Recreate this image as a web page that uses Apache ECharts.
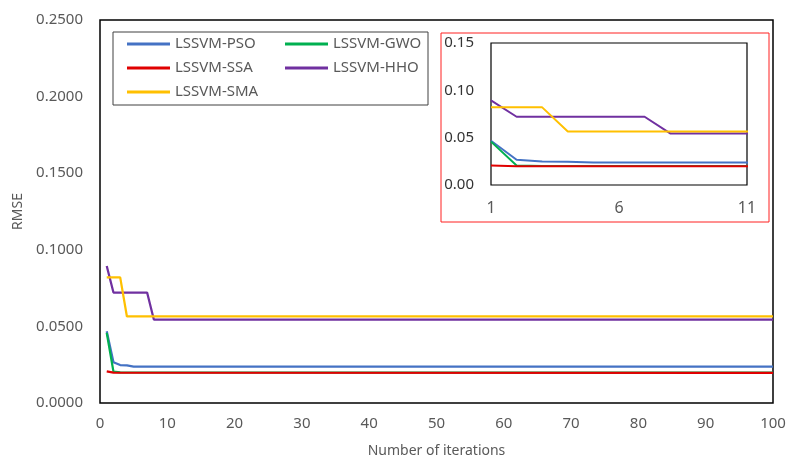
<!DOCTYPE html>
<html>
<head>
<meta charset="utf-8">
<script src="https://cdn.jsdelivr.net/npm/echarts@6/dist/echarts.min.js"></script>
<style>html,body{margin:0;padding:0;background:#fff;}#c{width:787px;height:461px;}</style>
</head>
<body>
<div id="c"></div>
<script>
// Data: [iteration, RMSE] change points
const seriesNames = ['LSSVM-PSO', 'LSSVM-GWO', 'LSSVM-SSA', 'LSSVM-HHO', 'LSSVM-SMA'];
const psoData = [[1, 0.0468], [2, 0.0266], [3, 0.0248], [4, 0.0245], [5, 0.0237], [100, 0.0237]];
const gwoData = [[1, 0.0458], [2, 0.0205], [3, 0.0200], [100, 0.0198]];
const ssaData = [[1, 0.0207], [2, 0.0198], [100, 0.0196]];
const hhoData = [[1, 0.0894], [2, 0.0721], [7, 0.0721], [8, 0.0545], [100, 0.0545]];
const smaData = [[1, 0.0820], [3, 0.0820], [4, 0.0565], [100, 0.0565]];
const insetXLabels = [1, 6, 11];
const colors = ['#4472C4', '#00B050', '#E00000', '#7030A0', '#FFC000'];
const allData = [psoData, gwoData, ssaData, hhoData, smaData];

const FONT = 'Noto Sans';
const chart = echarts.init(document.getElementById('c'), null, {renderer: 'canvas'});

const series = [];
allData.forEach((d, i) => {
  series.push({
    name: seriesNames[i], type: 'line', data: d, xAxisIndex: 0, yAxisIndex: 0,
    showSymbol: false, symbol: 'none', lineStyle: {color: colors[i], width: 2.25},
    itemStyle: {color: colors[i]}, z: 3, animation: false
  });
});
allData.forEach((d, i) => {
  series.push({
    name: seriesNames[i], type: 'line', data: d, xAxisIndex: 1, yAxisIndex: 1,
    showSymbol: false, symbol: 'none', clip: true, lineStyle: {color: colors[i], width: 2},
    itemStyle: {color: colors[i]}, z: 12, animation: false
  });
});

const legendCommon = {
  orient: 'vertical', icon: 'rect', itemWidth: 43, itemHeight: 3, itemGap: 4, padding: 0,
  textStyle: {fontFamily: FONT, fontSize: 15, color: '#595959', lineHeight: 20},
  selectedMode: false
};

chart.setOption({
  animation: false,
  textStyle: {fontFamily: FONT},
  color: colors,
  graphic: [
    {type: 'rect', shape: {x: 113, y: 32, width: 315, height: 73}, style: {fill: '#fff', stroke: '#404040', lineWidth: 1}, z: 5},
    {type: 'rect', shape: {x: 441, y: 33, width: 328, height: 189}, style: {fill: '#fff', stroke: '#FF2020', lineWidth: 1}, z: 5}
  ],
  legend: [
    Object.assign({left: 127, top: 34, data: [seriesNames[0], seriesNames[2], seriesNames[4]]}, legendCommon, {z: 8}),
    Object.assign({left: 285, top: 34, data: [seriesNames[1], seriesNames[3]]}, legendCommon, {z: 8})
  ],
  grid: [
    {left: 100, top: 20, width: 673, height: 383, outerBoundsMode: 'none', containLabel: false, show: true, borderColor: '#000', borderWidth: 1.5, backgroundColor: 'transparent', z: 1},
    {left: 491, top: 43, width: 256, height: 142, outerBoundsMode: 'none', containLabel: false, show: true, borderColor: '#000', borderWidth: 1.2, backgroundColor: 'transparent', z: 10}
  ],
  xAxis: [
    {
      type: 'value', gridIndex: 0, min: 0, max: 100, interval: 10,
      name: 'Number of iterations', nameLocation: 'middle', nameGap: 41,
      nameTextStyle: {fontFamily: FONT, fontSize: 14, color: '#595959'},
      axisLine: {show: false}, axisTick: {show: false}, splitLine: {show: false},
      axisLabel: {fontFamily: FONT, fontSize: 15, color: '#595959', margin: 13}
    },
    {
      type: 'value', gridIndex: 1, min: 1, max: 11,
      axisLine: {show: false}, axisTick: {show: false}, splitLine: {show: false},
      axisLabel: {fontFamily: FONT, fontSize: 16, color: '#595959', margin: 15, customValues: insetXLabels}, z: 11
    }
  ],
  yAxis: [
    {
      type: 'value', gridIndex: 0, min: 0, max: 0.25, interval: 0.05,
      name: 'RMSE', nameLocation: 'middle', nameGap: 70,
      nameTextStyle: {fontFamily: FONT, fontSize: 14, color: '#595959'},
      axisLine: {show: false}, axisTick: {show: false}, splitLine: {show: false},
      axisLabel: {fontFamily: FONT, fontSize: 15, color: '#595959', margin: 17, formatter: v => v.toFixed(4)}
    },
    {
      type: 'value', gridIndex: 1, min: 0, max: 0.15, interval: 0.05,
      axisLine: {show: false}, axisTick: {show: false}, splitLine: {show: false},
      axisLabel: {fontFamily: FONT, fontSize: 15, color: '#333', margin: 17, formatter: v => v.toFixed(2)}, z: 11
    }
  ],
  series: series
});
</script>
</body>
</html>
